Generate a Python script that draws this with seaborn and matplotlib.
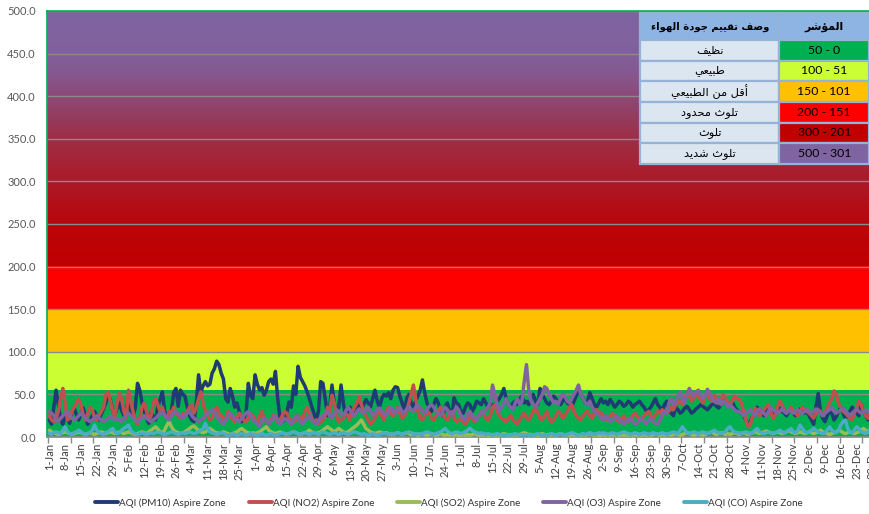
import numpy as np
import pandas as pd
import matplotlib
matplotlib.use("Agg")
import matplotlib.pyplot as plt
import seaborn as sns
from matplotlib.colors import to_rgb
from matplotlib.patches import Rectangle
from matplotlib.lines import Line2D

# ---------------- data (daily AQI, leap year 2020) ----------------
pm10 = [
    20,15,35,55,38,20,15,25,22,16,30,34,26,20,28,34,24,15,19,25,30,24,20,27,33,40,48,44,30,26,34,
    40,31,25,35,42,30,24,34,63,55,40,30,22,16,28,24,20,36,44,53,30,25,22,30,52,57,36,55,50,
    48,35,25,20,18,40,73,53,60,65,60,62,75,80,89,85,75,68,45,41,57,48,35,40,30,18,22,28,63,48,45,
    73,62,55,58,49,55,65,68,62,77,45,22,18,20,28,41,35,60,50,83,70,65,60,53,45,36,28,20,30,65,
    63,45,25,35,61,40,30,35,61,40,25,30,35,30,28,35,40,32,38,44,40,35,45,55,42,35,45,50,48,52,45,
    55,59,58,48,40,30,45,50,40,35,42,48,55,67,52,40,35,30,38,45,40,30,25,35,40,30,25,46,40,38,
    30,28,35,40,38,30,35,42,40,38,45,40,35,39,38,36,42,45,50,57,45,38,35,40,42,38,45,48,40,42,38,
    45,50,42,38,57,50,45,40,38,42,48,45,40,38,42,45,40,38,35,42,48,55,50,45,40,42,52,45,38,35,40,
    45,40,42,38,44,40,35,38,42,40,36,38,42,40,35,38,40,42,38,35,30,32,35,40,45,38,35,30,38,42,
    30,28,25,35,32,28,30,34,36,32,28,30,33,35,38,36,34,32,35,38,40,36,34,38,42,40,36,38,42,35,32,
    30,28,25,20,15,18,25,30,35,32,28,25,30,35,32,28,26,30,34,30,28,25,30,32,28,25,30,33,30,28,
    30,25,20,15,35,51,30,22,18,25,30,28,20,24,30,35,28,22,25,30,35,32,28,25,38,30,25,20,28,35,32,
]
no2 = [
    25,20,18,22,30,45,57,40,20,22,30,35,40,44,38,25,20,28,35,32,22,20,25,30,35,50,53,42,30,25,40,
    51,45,30,22,55,42,30,20,15,22,35,40,30,20,25,40,45,38,30,35,25,22,30,28,35,30,25,22,28,
    25,30,35,38,28,35,45,53,40,30,25,20,22,30,35,28,25,20,22,30,25,20,18,22,28,24,20,18,22,28,25,
    20,18,25,30,22,18,15,20,25,22,18,20,25,30,28,22,15,18,20,25,22,20,30,35,28,22,18,20,15,18,
    20,25,35,30,49,40,25,18,20,22,28,25,20,30,35,40,47,38,30,25,20,15,18,22,28,30,25,20,30,35,28,
    25,30,35,28,22,25,30,40,50,61,45,30,22,20,25,30,28,22,20,25,30,35,28,22,20,25,30,22,18,20,
    20,18,15,20,25,22,18,20,25,30,28,22,20,25,35,38,30,25,22,20,18,22,25,20,18,15,20,25,28,22,20,
    25,30,35,28,22,20,25,30,22,18,20,25,30,28,22,25,30,35,38,30,25,22,20,25,28,30,25,22,28,32,30,
    28,25,20,22,25,28,24,20,18,22,25,20,18,22,25,28,24,20,22,25,28,30,25,22,26,30,28,32,30,28,
    30,35,32,38,40,42,38,45,53,48,42,45,50,47,45,40,48,52,45,42,49,45,40,44,50,46,40,38,42,48,45,
    45,40,30,20,12,15,25,34,30,25,28,32,35,38,30,22,25,35,42,38,30,28,32,35,30,28,25,30,35,32,
    30,28,25,22,28,32,30,25,28,35,40,45,54,50,40,35,30,28,25,22,20,28,35,42,38,30,25,22,28,40,35,
]
so2 = [
    8,6,5,4,3,4,5,6,5,4,3,4,5,6,5,4,3,4,5,4,3,4,5,6,5,4,5,6,5,4,5,
    6,5,4,5,6,5,4,3,4,5,6,5,4,6,8,10,12,9,6,5,8,14,18,12,8,6,5,4,5,
    6,8,10,12,13,10,8,6,5,6,8,10,8,6,5,4,5,6,5,4,3,4,5,6,8,10,8,6,5,4,5,
    4,5,6,8,10,12,8,6,5,4,5,6,5,4,3,4,5,6,5,4,3,4,5,6,8,6,5,4,5,6,
    8,10,12,10,8,6,8,10,8,6,5,6,8,10,12,14,17,20,15,10,8,6,5,4,5,6,5,4,5,4,3,
    3,4,5,4,3,4,5,4,3,4,3,2,3,4,3,2,3,4,3,2,3,4,3,2,3,2,3,2,3,2,
    2,3,2,3,2,3,4,3,2,3,2,3,2,2,3,2,3,2,3,4,3,2,3,2,3,2,3,4,5,4,3,
    3,2,3,2,3,4,3,2,3,2,3,2,3,4,3,2,3,2,3,2,3,2,2,3,2,3,4,3,2,3,2,
    2,3,2,3,2,3,2,3,2,3,2,3,2,3,2,3,2,3,2,3,2,3,2,3,4,3,2,3,2,3,
    3,2,3,4,3,2,3,4,5,4,3,2,3,4,3,2,3,4,5,6,4,3,4,5,4,3,4,3,4,5,4,
    3,4,5,4,3,4,5,6,5,4,5,6,7,6,5,4,5,6,5,4,5,6,8,6,5,4,5,6,5,4,
    5,6,5,4,5,6,8,6,5,4,3,4,5,6,8,7,5,4,5,6,5,4,5,6,8,10,8,6,5,6,5,
]
o3 = [
    30,28,25,20,18,22,25,28,30,25,22,20,22,25,28,25,22,20,18,20,22,25,22,20,18,20,22,24,22,20,22,
    20,18,22,25,28,25,22,20,18,20,22,25,22,20,18,20,22,25,28,30,25,22,20,25,28,30,28,25,22,
    25,28,30,25,22,20,18,20,22,25,28,30,32,28,25,20,18,15,20,25,28,25,22,20,18,22,25,28,30,25,20,
    18,15,12,18,22,20,15,18,22,25,20,15,18,22,20,18,15,20,25,22,18,15,20,22,25,20,18,15,20,22,
    25,28,30,25,22,28,32,30,28,25,30,35,32,28,25,30,33,30,28,32,35,30,25,28,32,34,30,28,25,30,35,
    30,28,32,35,30,28,33,36,32,30,35,38,34,30,28,32,36,38,35,30,28,25,30,35,32,28,25,30,35,32,
    25,22,20,28,30,25,22,20,25,30,28,32,35,40,61,50,38,30,35,40,45,38,35,32,40,45,38,42,65,85,55,
    42,38,35,40,45,50,59,57,50,45,40,42,38,45,50,48,42,40,45,50,55,61,50,45,40,38,42,35,30,28,25,
    22,20,25,22,18,20,22,25,20,18,15,18,20,22,18,15,16,20,22,18,15,20,22,18,16,15,20,25,30,28,
    40,45,38,42,48,53,45,40,50,57,52,48,53,55,50,45,48,56,52,45,42,40,45,38,42,40,35,38,35,32,30,
    30,28,25,28,30,32,28,25,30,33,30,28,25,30,35,32,30,28,30,33,30,28,32,30,28,30,32,30,28,30,
    32,30,28,30,33,30,28,25,28,30,32,35,30,28,30,32,34,30,28,25,28,30,33,30,28,30,32,30,28,26,28,
]
co = [
    4,3,5,6,5,4,8,12,6,4,3,5,6,8,6,4,3,4,5,8,14,8,5,4,3,5,6,8,10,6,4,
    5,8,10,12,14,8,5,4,3,4,5,4,3,4,5,4,5,6,5,4,3,4,5,6,5,4,3,4,5,
    4,5,6,5,4,5,6,8,10,16,10,6,5,4,3,4,5,4,3,2,3,4,3,2,3,4,3,2,3,4,3,
    3,2,3,4,3,2,3,4,3,2,3,4,5,4,3,4,5,6,5,4,3,4,5,4,3,4,5,4,3,5,
    6,5,4,3,4,5,4,3,4,5,4,3,4,5,6,5,4,3,4,3,2,3,4,3,2,3,4,5,4,3,4,
    3,4,5,4,3,4,5,6,5,4,3,4,3,4,5,6,5,4,3,4,5,6,8,10,7,5,4,5,6,5,
    4,5,6,8,10,8,6,5,4,5,4,3,4,3,2,3,4,3,2,3,2,3,2,3,4,3,2,3,2,3,2,
    3,2,3,4,3,2,3,2,3,4,3,2,3,4,3,2,3,4,5,4,3,2,3,4,3,4,5,4,3,4,5,
    4,5,4,3,4,5,4,3,4,5,6,5,4,3,4,5,4,3,4,5,4,3,4,5,4,3,4,5,4,3,
    4,5,6,5,4,8,12,8,5,4,5,6,5,4,5,6,5,4,5,6,8,6,5,4,5,6,10,12,8,6,5,
    5,4,5,6,5,4,5,8,10,6,5,4,5,6,5,4,5,6,8,6,5,6,8,10,6,5,8,14,10,6,
    5,6,8,10,8,6,5,4,5,8,12,8,6,5,8,14,18,20,10,6,5,8,12,10,6,5,4,6,10,14,8,
]

series_names = ["AQI (PM10) Aspire Zone", "AQI (NO2) Aspire Zone", "AQI (SO2) Aspire Zone",
                "AQI (O3) Aspire Zone", "AQI (CO) Aspire Zone"]
series_values = [pm10, no2, so2, o3, co]
series_colors = ["#1F3B73", "#C0504D", "#9BBB59", "#8064A2", "#4BACC6"]

y_ticks = list(range(0, 501, 50))

# table content
table_header = ["المؤشر", "وصف تقييم جودة الهواء"]
table_ranges = ["50 - 0", "100 - 51", "150 - 101", "200 - 151", "300 - 201", "500 - 301"]
table_desc = ["نظيف", "طبيعي", "أقل من الطبيعي", "تلوث محدود", "تلوث", "تلوث شديد"]
table_colors = ["#00B050", "#CCFF33", "#FFC000", "#FF0000", "#C00000", "#8064A2"]

# ---------------- minimal Arabic shaping (presentation forms) ----------------
AR = {
    '\u0621': ('\uFE80', None, None, None),
    '\u0623': ('\uFE83', '\uFE84', None, None),
    '\u0624': ('\uFE85', '\uFE86', None, None),
    '\u0627': ('\uFE8D', '\uFE8E', None, None),
    '\u0628': ('\uFE8F', '\uFE90', '\uFE91', '\uFE92'),
    '\u0629': ('\uFE93', '\uFE94', None, None),
    '\u062A': ('\uFE95', '\uFE96', '\uFE97', '\uFE98'),
    '\u062B': ('\uFE99', '\uFE9A', '\uFE9B', '\uFE9C'),
    '\u062C': ('\uFE9D', '\uFE9E', '\uFE9F', '\uFEA0'),
    '\u062D': ('\uFEA1', '\uFEA2', '\uFEA3', '\uFEA4'),
    '\u062F': ('\uFEA9', '\uFEAA', None, None),
    '\u0631': ('\uFEAD', '\uFEAE', None, None),
    '\u0634': ('\uFEB5', '\uFEB6', '\uFEB7', '\uFEB8'),
    '\u0635': ('\uFEB9', '\uFEBA', '\uFEBB', '\uFEBC'),
    '\u0637': ('\uFEC1', '\uFEC2', '\uFEC3', '\uFEC4'),
    '\u0638': ('\uFEC5', '\uFEC6', '\uFEC7', '\uFEC8'),
    '\u0639': ('\uFEC9', '\uFECA', '\uFECB', '\uFECC'),
    '\u0641': ('\uFED1', '\uFED2', '\uFED3', '\uFED4'),
    '\u0642': ('\uFED5', '\uFED6', '\uFED7', '\uFED8'),
    '\u0644': ('\uFEDD', '\uFEDE', '\uFEDF', '\uFEE0'),
    '\u0645': ('\uFEE1', '\uFEE2', '\uFEE3', '\uFEE4'),
    '\u0646': ('\uFEE5', '\uFEE6', '\uFEE7', '\uFEE8'),
    '\u0647': ('\uFEE9', '\uFEEA', '\uFEEB', '\uFEEC'),
    '\u0648': ('\uFEED', '\uFEEE', None, None),
    '\u064A': ('\uFEF1', '\uFEF2', '\uFEF3', '\uFEF4'),
}


def shape_ar(s):
    out = []
    n = len(s)
    for i, c in enumerate(s):
        f = AR.get(c)
        if f is None:
            out.append(c)
            continue
        prev = s[i - 1] if i > 0 else None
        nxt = s[i + 1] if i < n - 1 else None
        pj = prev in AR and AR[prev][2] is not None
        nj = f[2] is not None and nxt in AR and AR[nxt][1] is not None
        if pj and nj:
            g = f[3]
        elif pj:
            g = f[1] or f[0]
        elif nj:
            g = f[2]
        else:
            g = f[0]
        out.append(g)
    return "".join(reversed(out))


# ---------------- styling ----------------
sns.set_theme(style="white")
plt.rcParams["font.family"] = ["Lato", "DejaVu Sans"]

W, H = 870, 514
fig = plt.figure(figsize=(W / 100, H / 100), dpi=100)
fig.patch.set_facecolor("white")

x_min, x_max = -1.02, 366.0
ax = fig.add_axes([47 / W, (H - 437) / H, (877 - 47) / W, (437 - 11) / H])

# background bands
grad_v = [200, 250, 300, 350, 400, 430, 460, 500]
grad_c = [(192, 0, 0), (184, 6, 12), (172, 26, 40), (158, 46, 70), (140, 74, 120),
          (132, 90, 146), (128, 98, 158), (127, 100, 162)]
grad_c = np.array(grad_c) / 255.0
vals = np.linspace(0, 500, 1501)
rows = []
for v in vals:
    if v < 55:
        rows.append(to_rgb("#00B050"))
    elif v < 100:
        rows.append(to_rgb("#CCFF33"))
    elif v < 150:
        rows.append(to_rgb("#FFC000"))
    elif v < 200:
        rows.append(to_rgb("#FF0000"))
    else:
        rows.append(tuple(np.interp(v, grad_v, grad_c[:, k]) for k in range(3)))
img = np.array(rows)[:, None, :]
ax.imshow(img, extent=(x_min, x_max, 0, 500), origin="lower", aspect="auto",
          interpolation="nearest", zorder=0)

for yv in y_ticks[1:]:
    ax.axhline(yv, color="#8A8A8A", lw=1.0, zorder=1)

# lines through seaborn
frames = []
for name, vals_s in zip(series_names, series_values):
    frames.append(pd.DataFrame({"day": np.arange(len(vals_s)), "value": vals_s, "series": name}))
long = pd.concat(frames, ignore_index=True)
sns.lineplot(data=long, x="day", y="value", hue="series", hue_order=series_names,
             palette=dict(zip(series_names, series_colors)), linewidth=2.5,
             legend=False, ax=ax, zorder=3)

ax.set_xlim(x_min, x_max)
ax.set_ylim(0, 500)
ax.set_xlabel("")
ax.set_ylabel("")

# y axis
ax.set_yticks(y_ticks)
ax.set_yticklabels([f"{v:.1f}" for v in y_ticks])
ax.tick_params(axis="y", length=0, pad=8, labelsize=8, labelcolor="#595959")

# x axis: labels every 7 days, small ticks every 10 days
dates = pd.date_range("2020-01-01", periods=366, freq="D")
label_days = list(range(0, 366, 7))
ax.set_xticks(label_days)
ax.set_xticklabels([f"{dates[d].day}-{dates[d].strftime('%b')}" for d in label_days],
                   rotation=90)
ax.set_xticks(np.arange(-0.5, 366, 10), minor=True)
ax.tick_params(axis="x", which="major", length=0, pad=4, labelsize=8, labelcolor="#404040")
ax.tick_params(axis="x", which="minor", length=4, width=1, color="#8A8A8A", bottom=True)

for side in ["left", "top"]:
    ax.spines[side].set_color("#00B050")
    ax.spines[side].set_linewidth(1.2)
ax.spines["bottom"].set_color("#8A8A8A")
ax.spines["right"].set_visible(False)

# legend
handles = [Line2D([0], [0], color=c, lw=2.8) for c in series_colors]
fig.legend(handles, series_names, loc="center", bbox_to_anchor=(449 / W, 1 - 503 / H),
           ncol=5, frameon=False, fontsize=7.1, handlelength=2.35, handletextpad=0.1,
           columnspacing=2.3, labelcolor="#333333")

# ---------------- table ----------------
col_x = [640, 779.5, 869]
row_y = [13, 40, 60.7, 81.3, 102, 122.7, 143.3, 164]
edge = "#95B3D7"


def cell(x0, y0, x1, y1, fc):
    r = Rectangle((x0 / W, 1 - y1 / H), (x1 - x0) / W, (y1 - y0) / H,
                  transform=fig.transFigure, facecolor=fc, edgecolor=edge, lw=1.6, zorder=5)
    fig.add_artist(r)


def ctext(x0, y0, x1, y1, s, **kw):
    fig.text((x0 + x1) / 2 / W, 1 - (y0 + y1) / 2 / H, s, ha="center", va="center",
             zorder=6, **kw)


# header
cell(col_x[0], row_y[0], col_x[1], row_y[1], "#8DB4E2")
cell(col_x[1], row_y[0], col_x[2], row_y[1], "#8DB4E2")
ctext(col_x[1], row_y[0], col_x[2], row_y[1], shape_ar(table_header[0]),
      family=["DejaVu Sans"], fontsize=7.8, fontweight="bold", color="black")
ctext(col_x[0], row_y[0], col_x[1], row_y[1], shape_ar(table_header[1]),
      family=["DejaVu Sans"], fontsize=7.2, fontweight="bold", color="black")
for i in range(6):
    y0, y1 = row_y[i + 1], row_y[i + 2]
    cell(col_x[0], y0, col_x[1], y1, "#DCE6F1")
    cell(col_x[1], y0, col_x[2], y1, table_colors[i])
    ctext(col_x[0], y0, col_x[1], y1, shape_ar(table_desc[i]),
          family=["DejaVu Sans"], fontsize=8.2, color="black")
    ctext(col_x[1], y0, col_x[2], y1, table_ranges[i], fontsize=8.8, color="black")

fig.savefig("out.png", dpi=100)
